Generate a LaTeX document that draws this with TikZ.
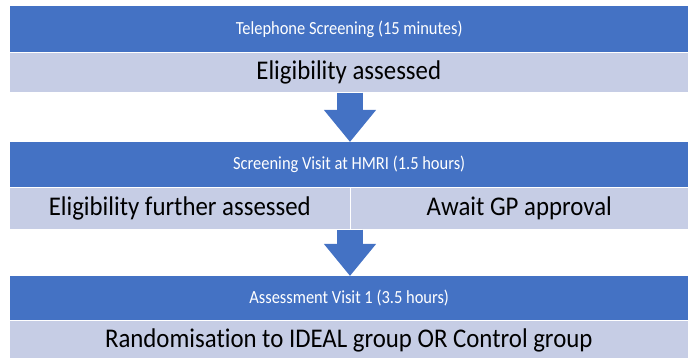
\documentclass[tikz,border=0pt]{standalone}
\usepackage{fontspec}
\setmainfont{Carlito}[Ligatures={NoCommon}]
\newfontfamily\hdrfont{Carlito}[Ligatures={NoCommon}, FakeStretch=0.89]
\newfontfamily\bandfont{Carlito}[Ligatures={NoCommon}, FakeStretch=0.92]
\usetikzlibrary{arrows.meta}
\definecolor{hdrblue}{HTML}{4472C4}
\definecolor{bandlight}{HTML}{C6CDE5}
\tikzset{
  hdr/.style={fill=hdrblue, draw=none, text=white, font=\hdrfont\fontsize{18.5}{21}\selectfont,
    inner sep=0pt, anchor=north west, minimum width=678pt},
  band/.style={fill=bandlight, draw=white, line width=0.6pt, text=black, font=\bandfont\fontsize{27}{30}\selectfont,
    inner sep=0pt, anchor=north west},
  flowarrow/.style={draw=hdrblue, line width=26pt,
    -{Triangle[width=50pt,length=32pt]}}
}
\begin{document}
\begin{tikzpicture}[x=1pt,y=-1pt]
\useasboundingbox (0,0) rectangle (688,358);
\node[hdr, minimum height=46pt] (h1) at (10,6) {Telephone Screening (15 minutes)};
\node[band, minimum width=679pt, minimum height=40pt] (b1) at (9,52) {Eligibility assessed};
\node[hdr, minimum height=45pt] (h2) at (10,142) {Screening Visit at HMRI (1.5 hours)};
\node[band, minimum width=341pt, minimum height=42pt] (b2l) at (9,187) {Eligibility further assessed};
\node[band, minimum width=338pt, minimum height=42pt] (b2r) at (350,187) {Await GP approval};
\node[hdr, minimum height=44pt] (h3) at (10,276) {Assessment Visit 1 (3.5 hours)};
\node[band, minimum width=679pt, minimum height=40pt] (b3) at (9,320) {Randomisation to IDEAL group OR Control group};
\coordinate (a1s) at (350,92);
\coordinate (a1e) at (350,141);
\coordinate (a2s) at (350,229);
\coordinate (a2e) at (350,276);
\draw[flowarrow] (b1.south -| a1s) -- (h2.north -| a1e);
\draw[flowarrow] (b2r.south west) -- (h3.north -| a2e);
\end{tikzpicture}
\end{document}
